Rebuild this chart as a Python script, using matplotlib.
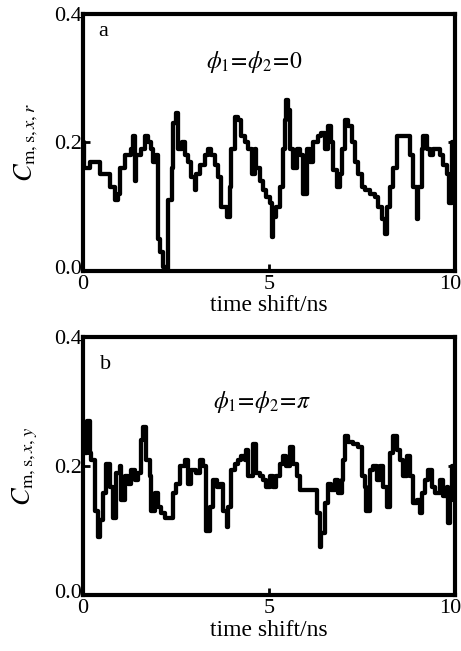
"""Two-panel step trace of C_m,s,x,y vs time shift (panels a and b)."""

import numpy as np
import matplotlib.pyplot as plt
import matplotlib.transforms as mtrans

plt.rcParams["font.family"] = "Liberation Serif"
plt.rcParams["mathtext.fontset"] = "stix"

# ── panel a : phi1 = phi2 = 0 ──────────────────────────────────────────────
t_a = [0.00, 0.03, 0.18, 0.45, 0.72, 0.85, 0.95, 1.00, 1.12, 1.30, 1.35, 1.39,
       1.43, 1.57, 1.66, 1.75, 1.84, 1.88, 1.97, 2.02, 2.06, 2.15, 2.24, 2.29,
       2.38, 2.42, 2.51, 2.56, 2.65, 2.74, 2.83, 2.91, 3.00, 3.05, 3.14, 3.27,
       3.36, 3.45, 3.54, 3.63, 3.72, 3.86, 3.95, 3.99, 4.08, 4.17, 4.26, 4.35,
       4.44, 4.53, 4.62, 4.66, 4.75, 4.84, 4.93, 5.02, 5.07, 5.11, 5.20, 5.29,
       5.38, 5.43, 5.47, 5.52, 5.56, 5.65, 5.74, 5.83, 5.92, 6.01, 6.10, 6.19,
       6.32, 6.41, 6.50, 6.59, 6.68, 6.73, 6.82, 6.91, 6.95, 7.04, 7.13, 7.22,
       7.31, 7.40, 7.49, 7.58, 7.71, 7.85, 7.94, 8.03, 8.12, 8.16, 8.25, 8.34,
       8.43, 8.57, 8.70, 8.79, 8.88, 8.97, 9.01, 9.10, 9.15, 9.24, 9.33, 9.42,
       9.51, 9.60, 9.69, 9.78, 9.83, 9.91, 10.0]
c_a = [0.20, 0.16, 0.17, 0.15, 0.13, 0.11, 0.12, 0.16, 0.18, 0.19, 0.21, 0.14,
       0.18, 0.19, 0.21, 0.20, 0.19, 0.17, 0.18, 0.05, 0.03, 0.006, 0.0, 0.11,
       0.16, 0.23, 0.245, 0.19, 0.20, 0.18, 0.17, 0.146, 0.125, 0.15, 0.165, 0.18,
       0.19, 0.18, 0.165, 0.146, 0.10, 0.084, 0.13, 0.19, 0.24, 0.235, 0.21, 0.20,
       0.19, 0.15, 0.19, 0.16, 0.14, 0.125, 0.115, 0.105, 0.053, 0.084, 0.10, 0.13,
       0.19, 0.235, 0.265, 0.25, 0.19, 0.16, 0.19, 0.18, 0.12, 0.19, 0.17, 0.20,
       0.21, 0.215, 0.19, 0.225, 0.20, 0.157, 0.13, 0.15, 0.19, 0.235, 0.225, 0.20,
       0.17, 0.15, 0.13, 0.125, 0.12, 0.115, 0.10, 0.08, 0.058, 0.10, 0.13, 0.16,
       0.21, 0.21, 0.21, 0.18, 0.13, 0.08, 0.13, 0.19, 0.21, 0.19, 0.18, 0.19,
       0.19, 0.18, 0.165, 0.15, 0.105, 0.20, 0.20]

# ── panel b : phi1 = phi2 = pi ─────────────────────────────────────────────
t_b = [0.00, 0.04, 0.10, 0.18, 0.22, 0.31, 0.40, 0.45, 0.54, 0.63, 0.72, 0.81,
       0.90, 0.99, 1.03, 1.12, 1.21, 1.30, 1.39, 1.48, 1.57, 1.61, 1.70, 1.79,
       1.84, 1.93, 2.02, 2.11, 2.20, 2.33, 2.42, 2.51, 2.60, 2.74, 2.83, 2.91,
       3.05, 3.14, 3.23, 3.32, 3.41, 3.50, 3.59, 3.68, 3.77, 3.86, 3.90, 3.99,
       4.08, 4.17, 4.26, 4.35, 4.39, 4.44, 4.57, 4.66, 4.75, 4.84, 4.93, 5.02,
       5.11, 5.20, 5.29, 5.38, 5.47, 5.56, 5.65, 5.74, 5.83, 6.01, 6.14, 6.28,
       6.37, 6.41, 6.50, 6.59, 6.68, 6.77, 6.86, 6.95, 7.00, 7.04, 7.13, 7.26,
       7.40, 7.49, 7.58, 7.62, 7.71, 7.80, 7.89, 7.98, 8.07, 8.16, 8.25, 8.34,
       8.43, 8.52, 8.61, 8.70, 8.79, 8.88, 8.97, 9.06, 9.10, 9.19, 9.28, 9.37,
       9.46, 9.60, 9.69, 9.78, 9.82, 9.87, 9.91, 10.0]
c_b = [0.24, 0.22, 0.27, 0.22, 0.21, 0.13, 0.09, 0.116, 0.158, 0.204, 0.168, 0.12,
       0.19, 0.20, 0.147, 0.184, 0.173, 0.194, 0.178, 0.19, 0.24, 0.26, 0.21, 0.184,
       0.13, 0.158, 0.137, 0.127, 0.12, 0.12, 0.158, 0.173, 0.20, 0.21, 0.173, 0.194,
       0.19, 0.21, 0.20, 0.10, 0.137, 0.178, 0.168, 0.173, 0.13, 0.106, 0.137, 0.194,
       0.204, 0.21, 0.215, 0.21, 0.225, 0.184, 0.235, 0.19, 0.184, 0.178, 0.168, 0.184,
       0.168, 0.184, 0.204, 0.215, 0.20, 0.23, 0.204, 0.184, 0.163, 0.163, 0.163, 0.127,
       0.075, 0.096, 0.142, 0.173, 0.163, 0.178, 0.158, 0.178, 0.21, 0.246, 0.238, 0.235,
       0.23, 0.184, 0.168, 0.13, 0.194, 0.20, 0.178, 0.20, 0.168, 0.137, 0.22, 0.246,
       0.225, 0.21, 0.184, 0.215, 0.184, 0.142, 0.147, 0.127, 0.158, 0.178, 0.194, 0.168,
       0.158, 0.178, 0.153, 0.168, 0.111, 0.147, 0.20, 0.20]

x_ticks = [0, 5, 10]
y_ticks = [0.0, 0.2, 0.4]
x_ticklabels = ["0", "5", "10"]
y_ticklabels = ["0.0", "0.2", "0.4"]

panels = [
    ("a", r"$\phi_1\!=\!\phi_2\!=\!0$", r"$C_{\mathrm{m,s,}x,r}$", t_a, c_a,
     [0.180, 0.584, 0.807, 0.395], (4.6, 0.325), (0.4, 0.372)),
    ("b", r"$\phi_1\!=\!\phi_2\!=\!\pi$", r"$C_{\mathrm{m,s,}x,y}$", t_b, c_b,
     [0.180, 0.086, 0.807, 0.396], (4.8, 0.30), (0.45, 0.357)),
]

fig = plt.figure(figsize=(4.61, 6.51), dpi=100)
fig.patch.set_facecolor("white")


def nudge(label, dx_px, dy_px):
    label.set_transform(label.get_transform() +
                        mtrans.ScaledTranslation(dx_px / 100, dy_px / 100,
                                                 fig.dpi_scale_trans))


for tag, note, ylab, t, c, rect, note_xy, tag_xy in panels:
    ax = fig.add_axes(rect)
    ax.step(t, c, where="post", color="black", linewidth=3.1)
    ax.set_xlim(0, 10)
    ax.set_ylim(0, 0.4)
    ax.set_xticks(x_ticks)
    ax.set_yticks(y_ticks)
    ax.set_xticklabels(x_ticklabels)
    ax.set_yticklabels(y_ticklabels)
    ax.tick_params(direction="in", length=5, width=2, labelsize=16, right=True)
    ax.tick_params(axis="x", pad=3)
    ax.tick_params(axis="y", pad=1)
    # keep "10" inside the figure and lift "0.0" clear of "0", as in the original
    nudge(ax.get_xticklabels()[-1], -5, 0)
    nudge(ax.get_yticklabels()[0], 0, 4)
    for sp in ax.spines.values():
        sp.set_linewidth(3)
    ax.set_xlabel("time shift/ns", fontsize=17, labelpad=1)
    ax.set_ylabel(ylab, fontsize=19, labelpad=10)
    ax.text(*tag_xy, tag, fontsize=16, ha="left", va="center")
    ax.text(*note_xy, note, fontsize=17, ha="center", va="center")

plt.savefig("out.png", dpi=100, facecolor="white")
